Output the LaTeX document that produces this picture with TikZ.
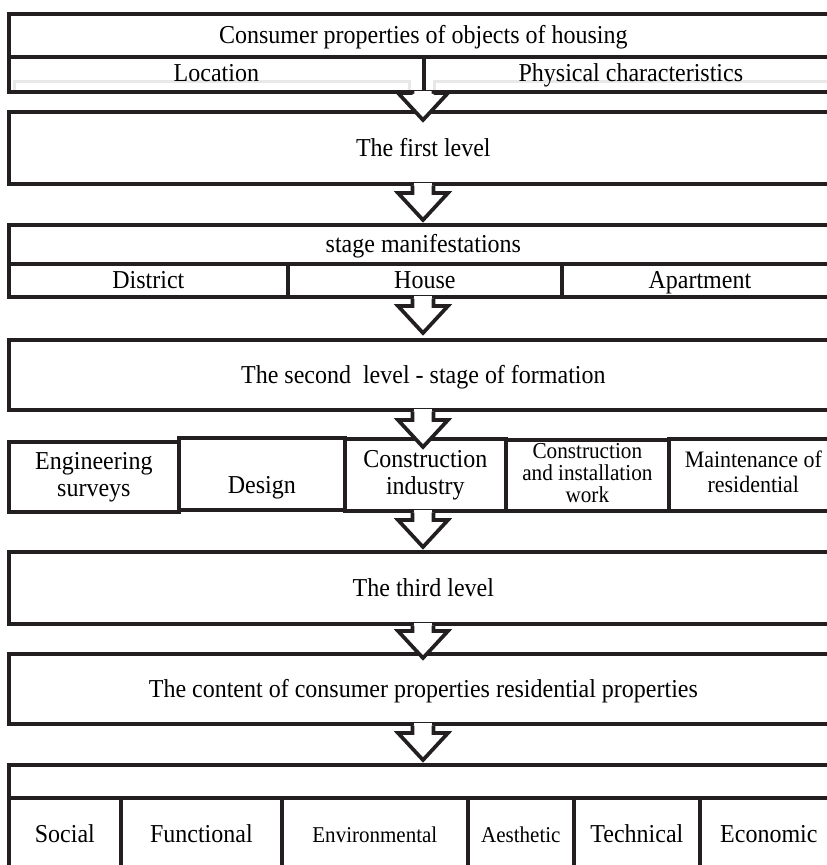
\documentclass[tikz,border=0pt]{standalone}
\usepackage{fontspec}
\setmainfont[FakeStretch=0.93]{Liberation Serif}
\usetikzlibrary{calc,positioning}
\definecolor{linegray}{HTML}{231F20}
\newcommand{\cellstrut}{\rule[-5.5pt]{0pt}{28pt}}

\begin{document}
\begin{tikzpicture}[x=1pt, y=-1pt, line join=miter]
\tikzstyle{cell}=[draw=linegray,line width=3.7pt,fill=white,inner sep=0pt,anchor=north west,align=center,font=\fontsize{25.8}{27}\selectfont,execute at begin node=\cellstrut]
\tikzstyle{small}=[font=\fontsize{22.6}{23}\selectfont]
\tikzstyle{label}=[inner sep=0pt,font=\fontsize{25.8}{27}\selectfont,execute at begin node=\cellstrut]
\tikzstyle{flow}=[draw=linegray,line width=3.7pt,fill=white]
\tikzstyle{faint}=[draw=gray!18,line width=3pt]
\useasboundingbox (0,0) rectangle (827,865);
\clip (0,0) rectangle (827,865);
\node[cell, minimum width=829, minimum height=43]   (title)   at (7,12)    {Consumer properties of objects of housing};
\node[cell, minimum width=415, minimum height=35]   (loc)     at (7,55)    {};
\node[cell, minimum width=414, minimum height=35]   (phys)    at (422,55)  {};
\draw[faint] (14,90) |- (409,81) -- (409,90);
\draw[faint] (434,90) |- (836,81);
\node[label] (loctext)  at ($(loc)+(0,-1)$)  {Location};
\node[label] (phystext) at ($(phys)+(0,-1)$) {Physical characteristics};
\node[cell, minimum width=829, minimum height=72]   (lvl1)    at (7,110)   {The first level};
\node[cell, minimum width=829, minimum height=39]   (stage)   at (7,223)   {stage manifestations};
\node[cell, minimum width=279, minimum height=33]   (dist)    at (7,262)   {District};
\node[cell, minimum width=274, minimum height=33]   (house)   at (286,262) {House};
\node[cell, minimum width=276, minimum height=33]   (apt)     at (560,262) {Apartment};
\node[cell, minimum width=829, minimum height=70]   (lvl2)    at (7,338)   {The second~ level - stage of formation};
\node[cell, minimum width=170, minimum height=70]   (eng)     at (7,440)   {Engineering\\surveys};
\node[cell, minimum width=166, minimum height=72]   (design)  at (177,436) {\phantom{D}\\Design};
\node[cell, minimum width=161, minimum height=72]   (indus)   at (343,437) {Construction\\industry};
\node[cell, minimum width=163, minimum height=71, font=\fontsize{22.8}{22}\selectfont] (cinst) at (504,438) {Construction\\and installation\\work};
\node[cell, minimum width=169, minimum height=72, font=\fontsize{23.6}{25}\selectfont] (maint) at (667,437) {Maintenance of\\residential};
\node[cell, minimum width=829, minimum height=72]   (lvl3)    at (7,550)   {The third level};
\node[cell, minimum width=829, minimum height=70]   (content) at (7,652)   {The content of consumer properties residential properties};
\node[cell, minimum width=829, minimum height=110]  (props)   at (7,763)   {};
\node[cell, minimum width=112, minimum height=72]   (social)  at (7,796)   {Social};
\node[cell, minimum width=161, minimum height=72]   (func)    at (119,796) {Functional};
\node[cell, small, minimum width=186, minimum height=72] (env) at (280,796) {Environmental};
\node[cell, small, minimum width=106, minimum height=72] (aest) at (466,796) {Aesthetic};
\node[cell, minimum width=126, minimum height=72]   (tech)    at (572,796) {Technical};
\node[cell, minimum width=138, minimum height=72]   (econ)    at (698,796) {Economic};
% block arrows between the levels
\coordinate (axis) at (423,0);
\foreach \a/\b/\d in {loc/lvl1/10, lvl1/stage/-3, house/lvl2/-5, lvl2/indus/10, indus/lvl3/-3, lvl3/content/6, content/props/-3}{
  \coordinate (s) at (\a.south -| axis);
  \coordinate (t) at ($(\b.north -| axis)+(0,\d)$);
  \fill[white] ($(s)+(-9,-3)$) rectangle ($(s)+(9,3)$);
  \filldraw[flow] ($(s)+(-10.5,0)$) -- ($(t)+(-10.5,-27)$) -- ($(t)+(-25,-27)$) -- (t)
     -- ($(t)+(25,-27)$) -- ($(t)+(10.5,-27)$) -- ($(s)+(10.5,0)$);
}
\end{tikzpicture}
\end{document}
